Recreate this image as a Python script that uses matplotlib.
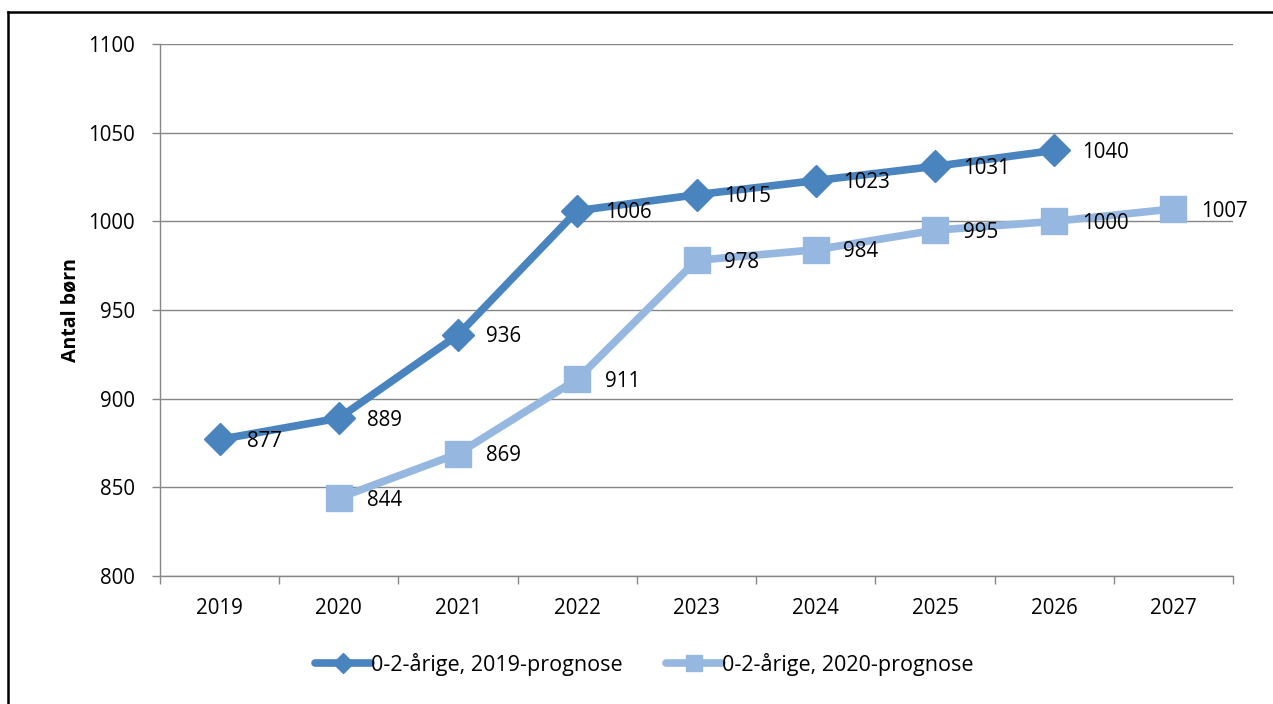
import matplotlib
matplotlib.use("Agg")
import matplotlib.pyplot as plt
from matplotlib.lines import Line2D
import numpy as np

plt.rcParams['font.family'] = ['Open Sans', 'DejaVu Sans']

years = ["2019", "2020", "2021", "2022", "2023", "2024", "2025", "2026", "2027"]
prog2019 = [877, 889, 936, 1006, 1015, 1023, 1031, 1040, None]
prog2020 = [None, 844, 869, 911, 978, 984, 995, 1000, 1007]
series_names = ["0-2-årige, 2019-prognose", "0-2-årige, 2020-prognose"]
ylabel = "Antal børn"

W, H = 1273, 704
FS = 14.8
fig = plt.figure(figsize=(W / 100, H / 100), dpi=100)
ax = fig.add_axes([160 / W, 1 - 576 / H, (1233 - 160) / W, (576 - 44) / H])

dark = "#4A84BF"
light = "#96B8E0"

x = np.arange(len(years))

def plot_series(vals, color, marker, ms):
    xs = [xi for xi, v in zip(x, vals) if v is not None]
    ys = [v for v in vals if v is not None]
    ax.plot(xs, ys, color=color, lw=5.5, marker=marker, ms=ms, mec=color, mfc=color,
            solid_capstyle='round', zorder=3)
    for xi, yi in zip(xs, ys):
        ax.annotate(str(yi), (xi, yi), xytext=(20, -1.5), textcoords='offset points',
                    ha='left', va='center', fontsize=FS, color='black', zorder=5)

plot_series(prog2019, dark, 'D', 16)
plot_series(prog2020, light, 's', 19)

ax.set_xlim(-0.5, len(years) - 0.5)
ax.set_ylim(800, 1100)
ax.set_yticks(np.arange(800, 1101, 50))
ax.set_xticks(x)
ax.set_xticklabels(years)
ax.set_xticks(np.arange(-0.5, len(years)), minor=True)
ax.tick_params(axis='x', which='major', length=0, pad=16, labelsize=FS)
ax.tick_params(axis='x', which='minor', length=6, color='#868686', width=1)
ax.tick_params(axis='y', length=6, color='#868686', width=1, pad=12, labelsize=FS)
ax.grid(axis='y', color='#868686', lw=1)
ax.set_axisbelow(True)
for s in ['top', 'right']:
    ax.spines[s].set_visible(False)
for s in ['left', 'bottom']:
    ax.spines[s].set_color('#868686')
    ax.spines[s].set_linewidth(1)

fig.text(70 / W, 1 - 310 / H, ylabel, rotation=90, ha='center', va='center',
         fontsize=14, fontweight='bold')

LFS = 15.5
handles = [Line2D([0], [0], color=dark, lw=5.5, marker='D', ms=10, solid_capstyle='round'),
           Line2D([0], [0], color=light, lw=5.5, marker='s', ms=12, solid_capstyle='round')]
fig.legend(handles, series_names, loc='center', bbox_to_anchor=(644 / W, 1 - 664 / H),
           ncol=2, frameon=False, fontsize=LFS, handlelength=2.6, handletextpad=0.0,
           columnspacing=2.0)

# outer frame (top and left edges visible)
fig.add_artist(Line2D([8 / W, 8 / W], [0, 1 - 12 / H], color='black', lw=1.8,
                      transform=fig.transFigure))
fig.add_artist(Line2D([8 / W, 1], [1 - 12 / H, 1 - 12 / H], color='black', lw=1.8,
                      transform=fig.transFigure))

fig.savefig("out.png", dpi=100)
